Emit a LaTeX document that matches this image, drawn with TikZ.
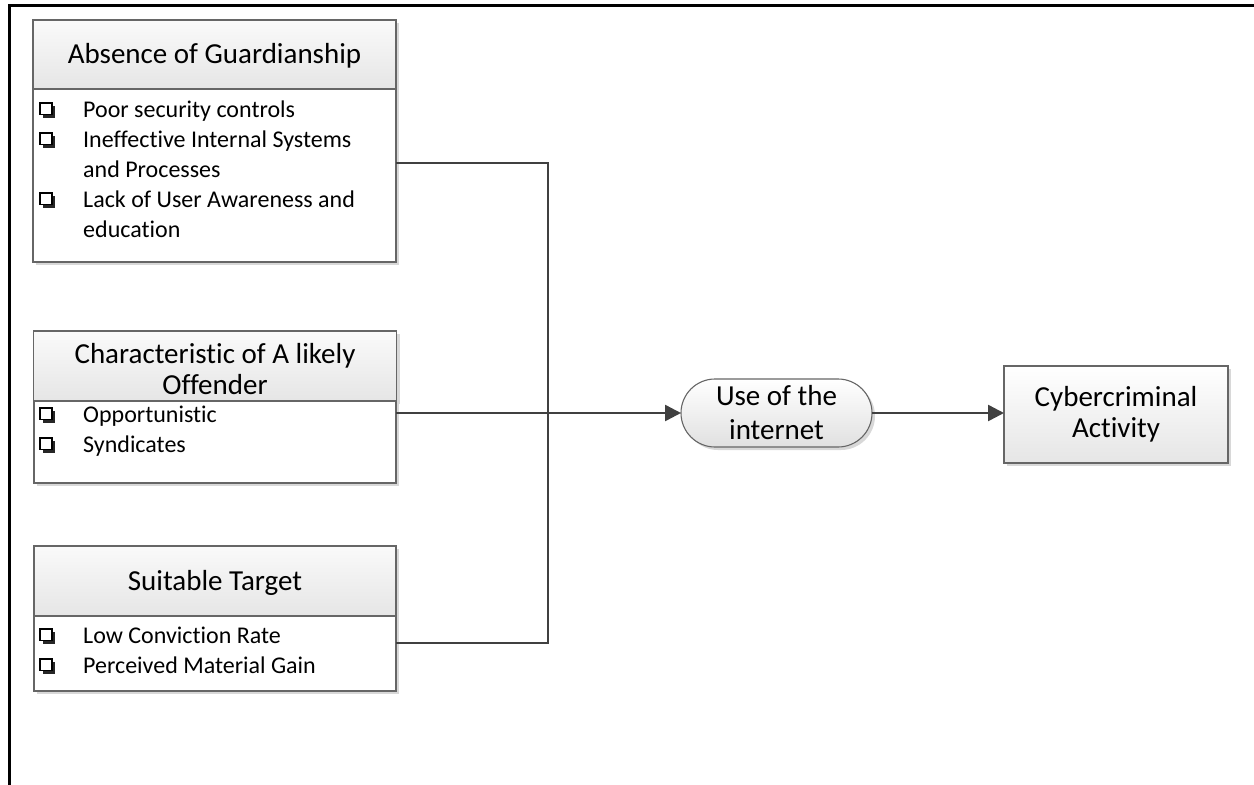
\documentclass[tikz,border=0pt]{standalone}
\usepackage{fontspec}
\setmainfont{Carlito}[Ligatures=CommonOff]
\usetikzlibrary{arrows.meta,shadows}
\begin{document}
\begin{tikzpicture}[x=1pt,y=-1pt,
  frame/.style={line width=3pt,black},
  conn/.style={line width=2.5pt,draw=black!75},
  arr/.style={-{Triangle[length=16pt,width=16pt]}},
  shad/.style={drop shadow={opacity=0.25,fill=black!60,shadow xshift=3pt,shadow yshift=-3pt}},
  hdr/.style={draw=black!60,line width=1.1pt,inner sep=0pt,outer sep=0pt,minimum width=363pt,
    top color=white!98!black,bottom color=white!90!black,shad},
  bodybox/.style={draw=black!60,line width=1.1pt,fill=white,inner sep=0pt,outer sep=0pt,minimum width=363pt,shad},
  ttl/.style={font=\fontsize{29}{33}\selectfont,anchor=base,inner sep=0pt},
  item/.style={font=\fontsize{24}{30}\selectfont,anchor=base west,inner sep=0pt,text=black},
  chk/.pic={\fill[black!85] (2.5,-11) rectangle (15,1);
            \draw[fill=white,line width=1.3pt] (0,-14) rectangle (12,-2.5);},
  oval/.style={draw=black!60,line width=1.1pt,rounded corners=34pt,minimum width=191pt,minimum height=68pt,
    top color=white,bottom color=white!88!black,inner sep=0pt,outer sep=0pt,align=center,
    font=\fontsize{29}{34}\selectfont,shad},
  actbox/.style={draw=black!60,line width=1.1pt,minimum width=224pt,minimum height=97pt,
    top color=white,bottom color=white!90!black,inner sep=0pt,outer sep=0pt,align=center,
    font=\fontsize{29}{31}\selectfont,shad}
]
\useasboundingbox (0,0) rectangle (1254,785);
\fill[white] (0,0) rectangle (1254,785);
\draw[frame] (9.5,785) -- (9.5,5.5) -- (1254,5.5);

% Box 1
\node[hdr,minimum height=69pt] (h1) at (214.5,54.5) {};
\node[bodybox,minimum height=173pt] (b1) at (214.5,175.5) {};
\node[ttl] (t1) at (214.5,63) {Absence of Guardianship};
\pic at (40,117) {chk};
\node[item] (i11) at (83,117) {Poor security controls};
\pic at (40,147) {chk};
\node[item] (i12) at (83,147) {Ineffective Internal Systems};
\node[item] (i13) at (83,177) {and Processes};
\pic at (40,207) {chk};
\node[item] (i14) at (83,207) {Lack of User Awareness and};
\node[item] (i15) at (83,237) {education};

% Box 2
\node[hdr,minimum height=70pt] (h2) at (215,366) {};
\node[bodybox,minimum height=82pt,minimum width=362pt] (b2) at (215,442) {};
\node[ttl] (t2a) at (215,363) {Characteristic of A likely};
\node[ttl] (t2b) at (215,394) {Offender};
\pic at (40,422) {chk};
\node[item] (i21) at (83,422) {Opportunistic};
\pic at (40,452) {chk};
\node[item] (i22) at (83,452) {Syndicates};

% Box 3
\node[hdr,minimum height=70pt,minimum width=362pt] (h3) at (215,581) {};
\node[bodybox,minimum height=75pt,minimum width=362pt] (b3) at (215,653.5) {};
\node[ttl] (t3) at (215,590) {Suitable Target};
\pic at (40,643) {chk};
\node[item] (i31) at (83,643) {Low Conviction Rate};
\pic at (40,673) {chk};
\node[item] (i32) at (83,673) {Perceived Material Gain};

% Right side
\node[oval] (use) at (776.5,413) {Use of the\\internet};
\node[actbox] (act) at (1116,414.5) {Cybercriminal\\Activity};

% Connectors
\coordinate (j1) at (548,163);
\coordinate (j3) at (548,643);
\draw[conn] (j1 -| b1.east) -- (j1) -- (j3) -- (j3 -| b3.east);
\draw[conn,arr] (use.west -| b2.east) -- (use.west);
\draw[conn,arr] (use.east) -- (use.east -| act.west);
\end{tikzpicture}
\end{document}
